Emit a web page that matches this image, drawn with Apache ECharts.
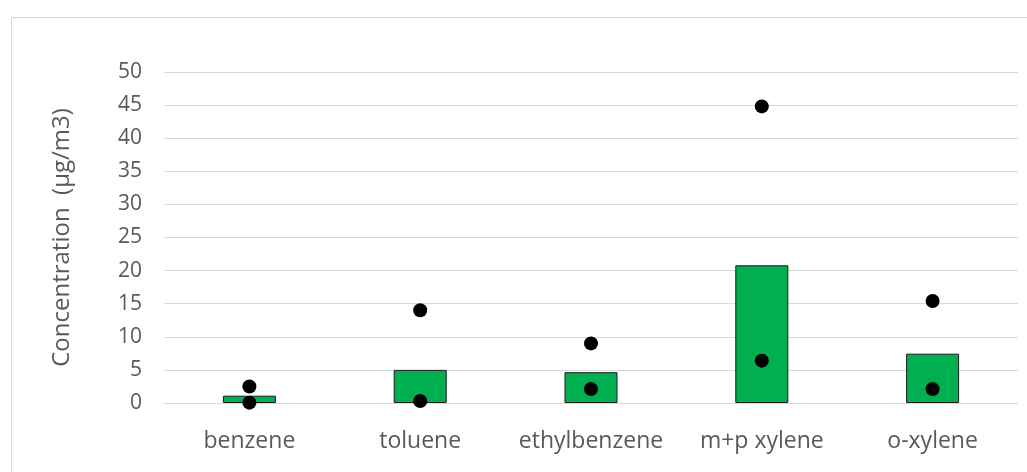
<!DOCTYPE html>
<html><head><meta charset="utf-8">
<script src="https://cdn.jsdelivr.net/npm/echarts@6/dist/echarts.min.js"></script>
<style>html,body{margin:0;padding:0;background:#fff}#c{width:1027px;height:472px}</style>
</head><body><div id="c"></div>
<script>
const categories = ['benzene','toluene','ethylbenzene','m+p xylene','o-xylene'];
const barValues = [1.1, 5.0, 4.65, 20.8, 7.45];
const highPoints = [2.5, 14.0, 9.0, 44.8, 15.4];
const lowPoints = [0.05, 0.3, 2.1, 6.4, 2.1];
const yTitle = 'Concentration  (µg/m3)';

const chart = echarts.init(document.getElementById('c'));
const font = '"Open Sans", sans-serif';
chart.setOption({
  animation: false,
  graphic: [{type:'rect', shape:{x:11.5,y:17.5,width:1100,height:600}, style:{fill:'none', stroke:'#d9d9d9', lineWidth:1}, silent:true}],
  grid: {left:164, right:9, top:72, bottom:69},
  xAxis: {type:'category', data:categories,
    axisLine:{lineStyle:{color:'#d9d9d9'}}, axisTick:{show:false},
    axisLabel:{color:'#595959', fontSize:23, fontFamily:font, margin:27, interval:0, hideOverlap:false}},
  yAxis: {type:'value', min:0, max:50, interval:5,
    name: yTitle, nameLocation:'middle', nameGap:90, nameRotate:90,
    nameTextStyle:{color:'#595959', fontSize:24, fontFamily:font},
    axisLine:{show:false}, axisTick:{show:false},
    axisLabel:{color:'#595959', fontSize:21, fontFamily:font, margin:22},
    splitLine:{lineStyle:{color:'#d9d9d9', width:1}}},
  series: [
    {type:'bar', data:barValues, barWidth:53, itemStyle:{color:'#00b050', borderColor:'#1a1a1a', borderWidth:1}},
    {type:'scatter', data:highPoints, symbolSize:14, itemStyle:{color:'#000', opacity:1}, z:5},
    {type:'scatter', data:lowPoints, symbolSize:14, itemStyle:{color:'#000', opacity:1}, z:5}
  ]
});
</script></body></html>
